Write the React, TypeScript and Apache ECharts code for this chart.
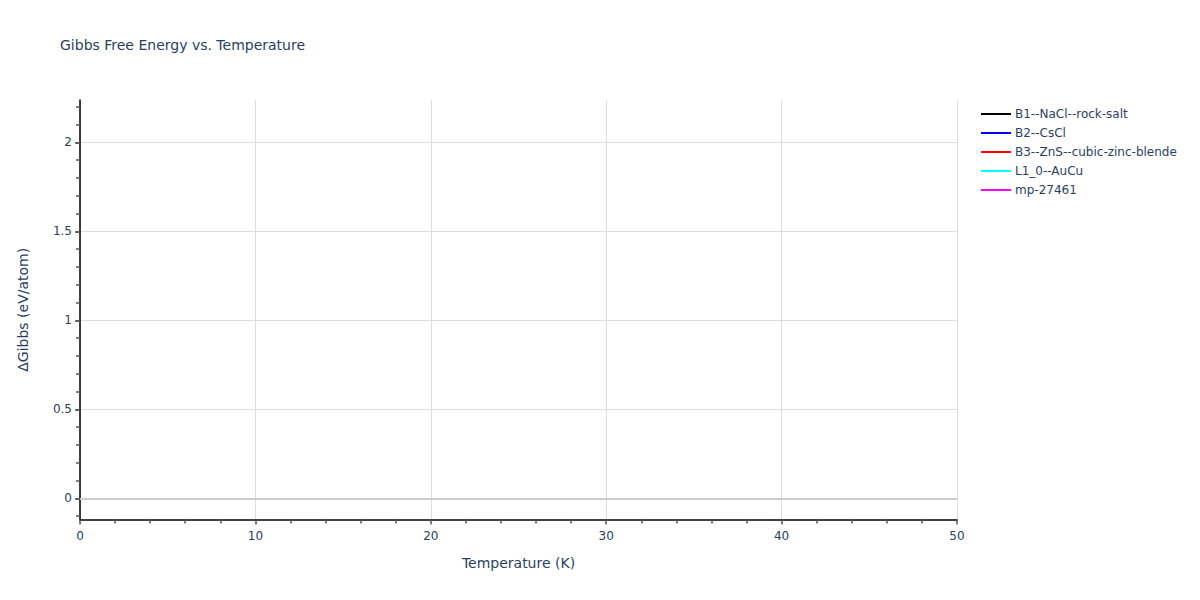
import * as echarts from 'echarts';
import React, { useEffect, useRef } from 'react';

// 시리즈 이름과 색상
const seriesNames = [
  'B1--NaCl--rock-salt',
  'B2--CsCl',
  'B3--ZnS--cubic-zinc-blende',
  'L1_0--AuCu',
  'mp-27461',
];
const seriesColors = ['#000000', '#0000ff', '#ff0000', '#00ffff', '#ff00ff'];
// 그래프에 보이는 데이터 없음 (빈 트레이스)
const seriesData: [number, number][][] = [[], [], [], [], []];

// 축 범위와 눈금
const xRange = [0, 50];
const xInterval = 10;
const yRange = [-0.119, 2.238];
const yMajorTicks = [0, 0.5, 1, 1.5, 2];
const yMinorTicks = [-0.1, 0, 0.1, 0.2, 0.3, 0.4, 0.5, 0.6, 0.7, 0.8, 0.9, 1, 1.1, 1.2, 1.3, 1.4, 1.5, 1.6, 1.7, 1.8, 1.9, 2, 2.1, 2.2];

const textColor = '#2a3f5f';
const font = 'Verdana, "DejaVu Sans", sans-serif';

const App = () => {
  const chartRef = useRef<HTMLDivElement>(null);

  useEffect(() => {
    document.body.style.margin = '0';
    if (!chartRef.current) return;
    const chart = echarts.init(chartRef.current, null, { renderer: 'svg' });

    chart.setOption({
      animation: false,
      backgroundColor: '#ffffff',
      title: {
        text: 'Gibbs Free Energy vs. Temperature',
        left: 60,
        top: 38,
        padding: 0,
        textStyle: { color: textColor, fontFamily: font, fontSize: 14, fontWeight: 'normal' },
      },
      legend: {
        orient: 'vertical',
        left: 981,
        top: 108,
        padding: 0,
        itemWidth: 30,
        itemHeight: 2,
        itemGap: 7,
        icon: 'rect',
        data: seriesNames,
        textStyle: { color: textColor, fontFamily: font, fontSize: 12, padding: [0, 0, 0, -1] },
      },
      grid: { left: 80, right: 243, top: 100, bottom: 80.5, containLabel: false },
      xAxis: {
        type: 'value',
        min: xRange[0],
        max: xRange[1],
        interval: xInterval,
        name: 'Temperature (K)',
        nameLocation: 'middle',
        nameGap: 36,
        nameTextStyle: { color: textColor, fontFamily: font, fontSize: 14 },
        axisLine: { show: true, onZero: false, lineStyle: { color: '#000000', width: 1.5 } },
        axisTick: { show: true, length: 5, lineStyle: { color: '#555555', width: 1.5 } },
        minorTick: { show: true, splitNumber: 5, length: 4, lineStyle: { color: '#555555', width: 1.5 } },
        axisLabel: { color: textColor, fontFamily: font, fontSize: 12, margin: 10 },
        splitLine: { show: true, lineStyle: { color: '#dddddd', width: 1 } },
      },
      yAxis: [
        {
          type: 'value',
          min: yRange[0],
          max: yRange[1],
          name: 'ΔGibbs (eV/atom)',
          nameLocation: 'middle',
          nameGap: 50,
          nameTextStyle: { color: textColor, fontFamily: font, fontSize: 14 },
          axisLine: { show: true, onZero: false, lineStyle: { color: '#000000', width: 1.5 } },
          axisTick: { show: true, length: 5, customValues: yMajorTicks, lineStyle: { color: '#555555', width: 1.5 } },
          axisLabel: { color: textColor, fontFamily: font, fontSize: 12, margin: 8, customValues: yMajorTicks },
          splitLine: { show: true, lineStyle: { color: '#dddddd', width: 1 } },
        },
        {
          type: 'value',
          min: yRange[0],
          max: yRange[1],
          position: 'left',
          axisLine: { show: false },
          axisTick: { show: true, length: 4, customValues: yMinorTicks, lineStyle: { color: '#555555', width: 1.5 } },
          axisLabel: { show: false },
          splitLine: { show: false },
        },
      ],
      series: seriesNames.map((name, i) => ({
        name,
        type: 'line',
        data: seriesData[i],
        symbol: 'none',
        itemStyle: { color: seriesColors[i] },
        lineStyle: { color: seriesColors[i], width: 2 },
        ...(i === 0
          ? {
              markLine: {
                silent: true,
                symbol: 'none',
                label: { show: false },
                lineStyle: { color: '#cccccc', width: 2, type: 'solid' },
                data: [{ yAxis: 0 }],
              },
            }
          : {}),
      })),
    });

    return () => {
      chart.dispose();
    };
  }, []);

  return <div ref={chartRef} style={{ width: 1200, height: 600 }} />;
};

export default App;
